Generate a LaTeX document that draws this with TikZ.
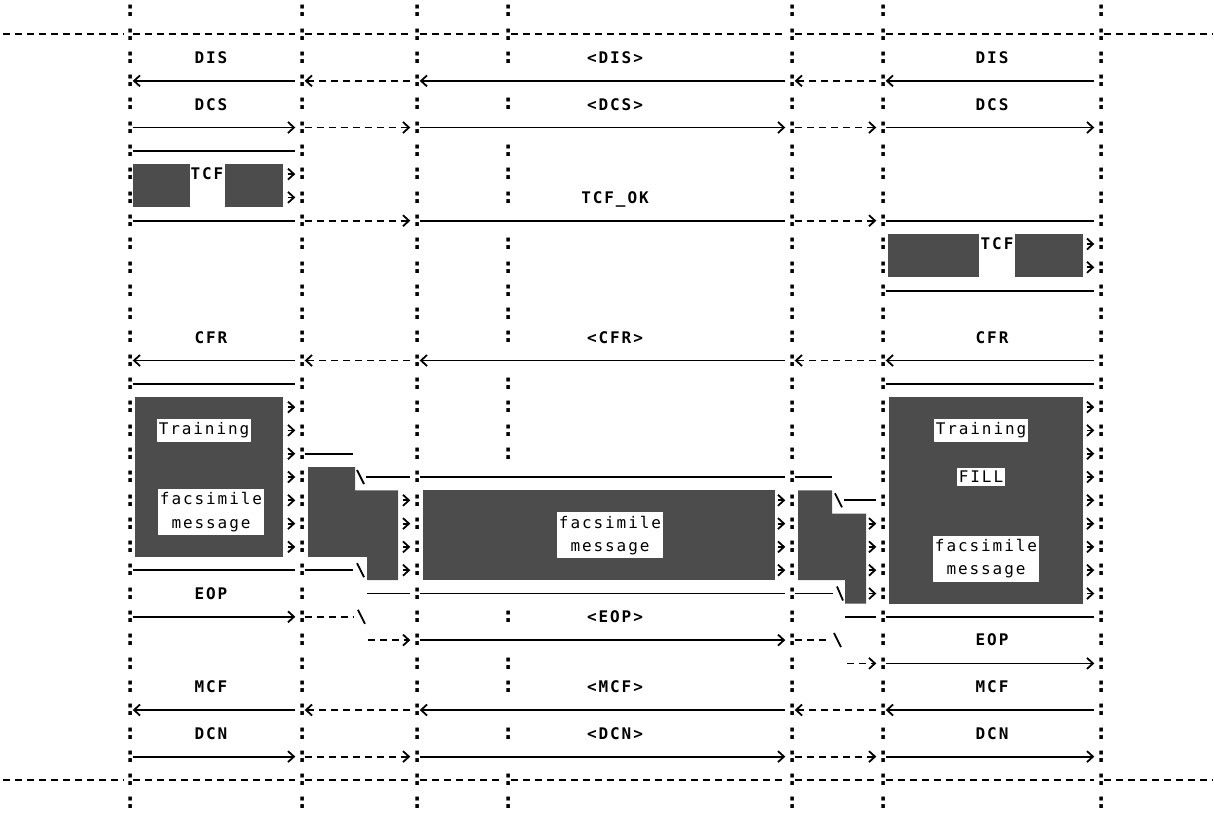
\documentclass[tikz,border=0pt]{standalone}
\usepackage{fontspec}
\usetikzlibrary{arrows.meta}
\newfontfamily\lblfam[LetterSpace=12]{DejaVu Sans Mono}
\newfontfamily\colfam{DejaVu Sans Mono}
\definecolor{shade}{gray}{0.3}
\newcommand\msgleft[1]{%
  \draw[sol,tip] (c2-#1.west) -- (c1-#1.east);
  \draw[dsh,tip] (c3-#1.west) -- (c2-#1.east);
  \draw[sol,tip] (c5-#1.west) -- (c3-#1.east);
  \draw[dsh,tip] (c6-#1.west) -- (c5-#1.east);
  \draw[sol,tip] (c7-#1.west) -- (c6-#1.east);}
\newcommand\msgright[1]{%
  \draw[sol,tip] (c1-#1.east) -- (c2-#1.west);
  \draw[dsh,tip] (c2-#1.east) -- (c3-#1.west);
  \draw[sol,tip] (c3-#1.east) -- (c5-#1.west);
  \draw[dsh,tip] (c5-#1.east) -- (c6-#1.west);
  \draw[sol,tip] (c6-#1.east) -- (c7-#1.west);}
\begin{document}
\begin{tikzpicture}[x=1pt,y=-1pt,
  declare function={ry(\r)=11+23.3*\r;},
  colon/.style={font=\colfam\bfseries\fontsize{22}{22}\selectfont,inner sep=0pt,text width=9pt,align=center},
  lbl/.style={font=\lblfam\bfseries\fontsize{16}{18}\selectfont,inner sep=0pt,anchor=base},
  boxlbl/.style={fill=white,font=\lblfam\fontsize{16}{23.3}\selectfont,inner xsep=2pt,inner ysep=3.5pt,align=center},
  sol/.style={line width=1.8pt},
  dsh/.style={line width=1.8pt,dash pattern=on 7pt off 5pt},
  tip/.style={-{Straight Barb[length=6pt,width=11pt,line width=1.8pt]}},
  bs/.style={line width=1.8pt},
  blk/.style={fill=shade,draw=none},
]
\useasboundingbox (0,0) rectangle (1214,825);

% ---------- lifelines (colons) ----------
\foreach \c/\xx in {1/128,2/300,3/415,5/790,6/881,7/1099}{
  \foreach \r in {0,...,34}{
    \node[colon] (c\c-\r) at (\xx,{ry(\r)}) {:};
  }
}
\foreach \r in {0,1,2,4,6,7,8,10,11,12,13,14,16,17,18,19,26,28,29,31,33,34}{
  \node[colon] (c4-\r) at (506,{ry(\r)}) {:};
}

% ---------- dashed separator rows ----------
\foreach \r in {1,33}{
  \coordinate (dl\r) at (3,{ry(\r)});
  \coordinate (dr\r) at (1212,{ry(\r)});
  \draw[dsh] (dl\r) -- (c1-\r.west);
  \draw[dsh] (c7-\r.east) -- (dr\r);
  \foreach \a/\b in {1/2,2/3,3/4,4/5,5/6,6/7}{
    \draw[dsh] (c\a-\r.east) -- (c\b-\r.west);
  }
}

% ---------- labels ----------
\node[lbl] (disL) at (211,{ry(2)+5.8}) {DIS};
\node[lbl] (disM) at (615,{ry(2)+5.8}) {<DIS>};
\node[lbl] (disR) at (992,{ry(2)+5.8}) {DIS};
\node[lbl] (dcsL) at (211,{ry(4)+5.8}) {DCS};
\node[lbl] (dcsM) at (615,{ry(4)+5.8}) {<DCS>};
\node[lbl] (dcsR) at (992,{ry(4)+5.8}) {DCS};
\node[lbl] (tcfok) at (615,{ry(8)+5.8}) {TCF\_OK};
\node[lbl] (cfrL) at (211,{ry(14)+5.8}) {CFR};
\node[lbl] (cfrM) at (615,{ry(14)+5.8}) {<CFR>};
\node[lbl] (cfrR) at (992,{ry(14)+5.8}) {CFR};
\node[lbl] (eopL) at (211,{ry(25)+5.8}) {EOP};
\node[lbl] (eopM) at (615,{ry(26)+5.8}) {<EOP>};
\node[lbl] (eopR) at (992,{ry(27)+5.8}) {EOP};
\node[lbl] (mcfL) at (211,{ry(29)+5.8}) {MCF};
\node[lbl] (mcfM) at (615,{ry(29)+5.8}) {<MCF>};
\node[lbl] (mcfR) at (992,{ry(29)+5.8}) {MCF};
\node[lbl] (dcnL) at (211,{ry(31)+5.8}) {DCN};
\node[lbl] (dcnM) at (615,{ry(31)+5.8}) {<DCN>};
\node[lbl] (dcnR) at (992,{ry(31)+5.8}) {DCN};

% ---------- DIS / DCS ----------
\msgleft{3}
\msgright{5}

% ---------- TCF (left) ----------
\draw[sol] (c1-6.east) -- (c2-6.west);
\fill[blk] (133,{ry(7)-10}) rectangle (190,{ry(8)+10});
\fill[blk] (225,{ry(7)-10}) rectangle (283,{ry(8)+10});
\node[lbl] (tcfL) at (207,{ry(7)+5.8}) {TCF};
\foreach \r in {7,8}{
  \coordinate (tl\r) at (288,{ry(\r)});
  \draw[sol,tip] (tl\r) -- (c2-\r.west);
}
\draw[sol] (c1-9.east) -- (c2-9.west);
\draw[dsh,tip] (c2-9.east) -- (c3-9.west);
\draw[sol] (c3-9.east) -- (c5-9.west);
\draw[dsh,tip] (c5-9.east) -- (c6-9.west);
\draw[sol] (c6-9.east) -- (c7-9.west);

% ---------- TCF (right) ----------
\fill[blk] (888,{ry(10)-10}) rectangle (979,{ry(11)+10});
\fill[blk] (1015,{ry(10)-10}) rectangle (1083,{ry(11)+10});
\node[lbl] (tcfR) at (997,{ry(10)+5.8}) {TCF};
\foreach \r in {10,11}{
  \coordinate (tr\r) at (1087,{ry(\r)});
  \draw[sol,tip] (tr\r) -- (c7-\r.west);
}
\draw[sol] (c6-12.east) -- (c7-12.west);

% ---------- CFR ----------
\msgleft{15}
\draw[sol] (c1-16.east) -- (c2-16.west);
\draw[sol] (c6-16.east) -- (c7-16.west);

% ---------- message blocks ----------
% left block
\fill[blk] (135,{ry(17)-10}) rectangle (283,{ry(23)+10});
\foreach \r in {17,...,23}{
  \coordinate (lb\r) at (288,{ry(\r)});
  \draw[sol,tip] (lb\r) -- (c2-\r.west);
}
\draw[sol] (c1-24.east) -- (c2-24.west);
% left-middle block
\fill[blk] (308,{ry(20)-10}) -- (355,{ry(20)-10}) -- (355,{ry(21)-10}) -- (398,{ry(21)-10})
  -- (398,{ry(24)+10}) -- (367,{ry(24)+10}) -- (367,{ry(23)+10}) -- (308,{ry(23)+10}) -- cycle;
\foreach \r in {21,...,24}{
  \coordinate (lm\r) at (403,{ry(\r)});
  \draw[sol,tip] (lm\r) -- (c3-\r.west);
}
% middle block
\fill[blk] (423,{ry(21)-10}) rectangle (775,{ry(24)+10});
\foreach \r in {21,...,24}{
  \coordinate (mb\r) at (778,{ry(\r)});
  \draw[sol,tip] (mb\r) -- (c5-\r.west);
}
% right-middle block
\fill[blk] (798,{ry(21)-10}) -- (832,{ry(21)-10}) -- (832,{ry(22)-10}) -- (866,{ry(22)-10})
  -- (866,{ry(25)+10}) -- (845,{ry(25)+10}) -- (845,{ry(24)+10}) -- (798,{ry(24)+10}) -- cycle;
\foreach \r in {22,...,25}{
  \coordinate (rm\r) at (869,{ry(\r)});
  \draw[sol,tip] (rm\r) -- (c6-\r.west);
}
% right block
\fill[blk] (889,{ry(17)-10}) rectangle (1083,{ry(25)+10});
\foreach \r in {17,...,25}{
  \coordinate (rb\r) at (1087,{ry(\r)});
  \draw[sol,tip] (rb\r) -- (c7-\r.west);
}
\draw[sol] (c6-26.east) -- (c7-26.west);

% block labels
\node[boxlbl] (trL) at (204,{ry(18)}) {Training};
\node[boxlbl] (trR) at (981,{ry(18)}) {Training};
\node[boxlbl] (fill) at (981,{ry(20)}) {FILL};
\node[boxlbl] (fmL) at (211,{(ry(21)+ry(22))/2}) {facsimile\\message};
\node[boxlbl] (fmM) at (610,{(ry(22)+ry(23))/2}) {facsimile\\message};
\node[boxlbl] (fmR) at (986,{(ry(23)+ry(24))/2}) {facsimile\\message};

% ---------- upper boundary with delays ----------
\coordinate (u1) at (353,{ry(19)});
\draw[sol] (c2-19.east) -- (u1);
\coordinate (u2a) at (357,{ry(20)-7});
\coordinate (u2b) at (364,{ry(20)+7});
\draw[bs] (u2a) -- (u2b);
\coordinate (u3) at (366,{ry(20)});
\draw[sol] (u3) -- (c3-20.west);
\draw[sol] (c3-20.east) -- (c5-20.west);
\coordinate (u4) at (832,{ry(20)});
\draw[sol] (c5-20.east) -- (u4);
\coordinate (u5a) at (835,{ry(21)-7});
\coordinate (u5b) at (842,{ry(21)+7});
\draw[bs] (u5a) -- (u5b);
\coordinate (u6) at (844,{ry(21)});
\draw[sol] (u6) -- (c6-21.west);

% ---------- lower boundary with delays ----------
\coordinate (l1) at (353,{ry(24)});
\draw[sol] (c2-24.east) -- (l1);
\coordinate (l2a) at (357,{ry(24)-7});
\coordinate (l2b) at (364,{ry(24)+7});
\draw[bs] (l2a) -- (l2b);
\coordinate (l3) at (367,{ry(25)});
\draw[sol] (l3) -- (c3-25.west);
\draw[sol] (c3-25.east) -- (c5-25.west);
\coordinate (l4) at (833,{ry(25)});
\draw[sol] (c5-25.east) -- (l4);
\coordinate (l5a) at (837,{ry(25)-7});
\coordinate (l5b) at (843,{ry(25)+7});
\draw[bs] (l5a) -- (l5b);
\coordinate (l6) at (845,{ry(26)});
\draw[sol] (l6) -- (c6-26.west);

% ---------- EOP ----------
\draw[sol,tip] (c1-26.east) -- (c2-26.west);
\coordinate (e1) at (353,{ry(26)});
\draw[dsh] (c2-26.east) -- (e1);
\coordinate (e2a) at (358,{ry(26)-7});
\coordinate (e2b) at (365,{ry(26)+7});
\draw[bs] (e2a) -- (e2b);
\coordinate (e3) at (368,{ry(27)});
\draw[dsh,tip] (e3) -- (c3-27.west);
\draw[sol,tip] (c3-27.east) -- (c5-27.west);
\coordinate (e4) at (830,{ry(27)});
\draw[dsh] (c5-27.east) -- (e4);
\coordinate (e5a) at (834,{ry(27)-7});
\coordinate (e5b) at (841,{ry(27)+7});
\draw[bs] (e5a) -- (e5b);
\coordinate (e6) at (847,{ry(28)});
\draw[dsh,tip] (e6) -- (c6-28.west);
\draw[sol,tip] (c6-28.east) -- (c7-28.west);

% ---------- MCF / DCN ----------
\msgleft{30}
\msgright{32}
\end{tikzpicture}
\end{document}
